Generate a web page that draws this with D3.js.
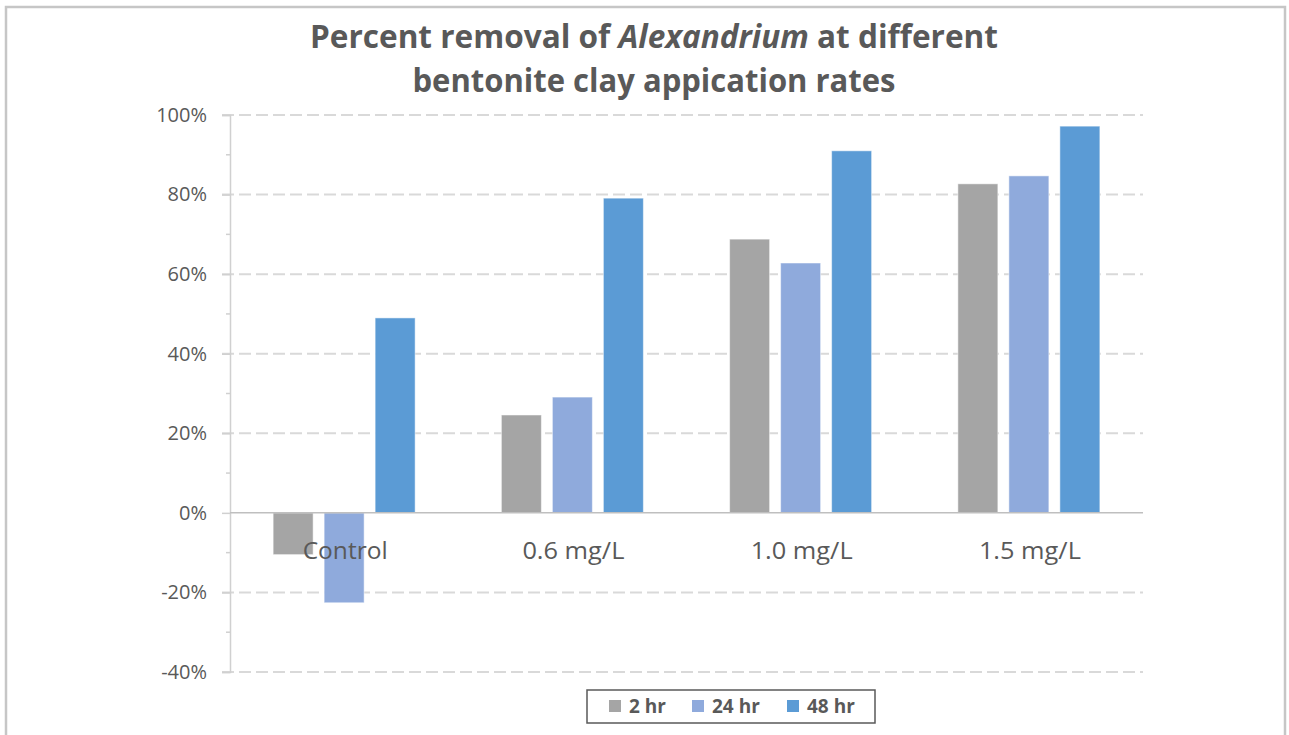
<!DOCTYPE html>
<html>
<head>
<meta charset="utf-8">
<script src="https://cdn.jsdelivr.net/npm/d3@7"></script>
<style>
  html, body { margin: 0; padding: 0; background: #fff; }
  svg { display: block; }
</style>
</head>
<body>
<svg id="chart" width="1289" height="735"></svg>
<script>
// ---- data ----
const categories = ["Control", "0.6 mg/L", "1.0 mg/L", "1.5 mg/L"];
const seriesNames = ["2 hr", "24 hr", "48 hr"];
const values2hr  = [-0.105, 0.246, 0.688, 0.827];
const values24hr = [-0.226, 0.291, 0.628, 0.847];
const values48hr = [0.490, 0.791, 0.910, 0.972];
const yTicks = [-0.4, -0.2, 0, 0.2, 0.4, 0.6, 0.8, 1.0];
const yMinorTicks = [-0.3, -0.1, 0.1, 0.3, 0.5, 0.7, 0.9];
const seriesColors = ["#A5A5A5", "#8FAADC", "#5B9BD5"];

const seriesValues = [values2hr, values24hr, values48hr];

const svg = d3.select("#chart");
const W = 1289, H = 735;

// outer frame
svg.append("rect").attr("x", 6).attr("y", 7).attr("width", W - 10).attr("height", H + 10)
  .attr("fill", "#fff").attr("stroke", "#c6c6c6").attr("stroke-width", 2.5);

// title
const title = svg.append("text").attr("text-anchor", "middle")
  .attr("font-family", "'Open Sans', sans-serif").attr("font-weight", 700)
  .attr("font-size", 33).attr("fill", "#595959");
title.append("tspan").attr("x", 654).attr("y", 48)
  .attr("textLength", 688).attr("lengthAdjust", "spacingAndGlyphs")
  .call(t => {
    t.append("tspan").text("Percent removal of ");
    t.append("tspan").attr("font-style", "italic").text("Alexandrium");
    t.append("tspan").text(" at different");
  });
title.append("tspan").attr("x", 654).attr("y", 92)
  .attr("textLength", 483).attr("lengthAdjust", "spacingAndGlyphs")
  .text("bentonite clay appication rates");

// scales
const plotLeft = 230, plotRight = 1143;
const y = d3.scaleLinear().domain([-0.4, 1.0]).range([672, 115]);
const x0 = d3.scaleBand().domain(categories).range([plotLeft, plotRight]).padding(0);
const groupInner = 142;
const x1 = d3.scaleBand().domain(seriesNames)
  .range([(x0.bandwidth() - groupInner) / 2, (x0.bandwidth() + groupInner) / 2])
  .paddingInner(11 / 51).paddingOuter(0);

// gridlines
svg.append("g").selectAll("line").data(yTicks.filter(d => d !== 0)).join("line")
  .attr("x1", plotLeft - 8).attr("x2", plotRight)
  .attr("y1", d => y(d)).attr("y2", d => y(d))
  .attr("stroke", "#d9d9d9").attr("stroke-width", 2)
  .attr("stroke-dasharray", "12,5");

// y axis
const pct = d3.format(".0%");
const yAxis = d3.axisLeft(y).tickValues(yTicks)
  .tickFormat(d => pct(d).replace("\u2212", "-")).tickSize(8).tickPadding(15);
const gy = svg.append("g").attr("transform", `translate(${plotLeft},0)`).call(yAxis);
gy.select(".domain").attr("stroke", "#d0d0d0").attr("stroke-width", 1.5);
gy.selectAll(".tick line").attr("stroke", "#d0d0d0").attr("stroke-width", 1.5);
gy.selectAll(".tick text").attr("font-family", "'Open Sans', sans-serif")
  .attr("font-size", 20).attr("fill", "#595959");
svg.append("g").selectAll("line").data(yMinorTicks).join("line")
  .attr("x1", plotLeft - 4).attr("x2", plotLeft)
  .attr("y1", d => y(d)).attr("y2", d => y(d))
  .attr("stroke", "#d0d0d0").attr("stroke-width", 1.5);

// bars
const groups = svg.append("g").selectAll("g").data(categories).join("g")
  .attr("transform", d => `translate(${x0(d)},0)`);
groups.selectAll("rect")
  .data((c, ci) => seriesNames.map((s, si) => ({ s, si, v: seriesValues[si][ci] })))
  .join("rect")
  .attr("x", d => x1(d.s))
  .attr("width", x1.bandwidth())
  .attr("y", d => y(Math.max(0, d.v)))
  .attr("height", d => Math.abs(y(d.v) - y(0)))
  .attr("fill", d => seriesColors[d.si])
  .attr("stroke", "#ffffff").attr("stroke-opacity", 0.5).attr("stroke-width", 1);

// zero line
svg.append("line").attr("x1", plotLeft).attr("x2", plotRight)
  .attr("y1", y(0)).attr("y2", y(0))
  .attr("stroke", "#bfbfbf").attr("stroke-width", 1.5);

// category labels
svg.append("g").selectAll("text").data(categories).join("text")
  .attr("x", d => x0(d) + x0.bandwidth() / 2 + 1)
  .attr("y", 559)
  .attr("text-anchor", "middle")
  .attr("font-family", "'Open Sans', sans-serif")
  .attr("font-size", 23).attr("fill", "#595959")
  .attr("textLength", d => d === "Control" ? 85 : 102)
  .attr("lengthAdjust", "spacingAndGlyphs")
  .text(d => d);

// legend
const leg = svg.append("g");
leg.append("rect").attr("x", 587).attr("y", 690).attr("width", 288).attr("height", 33)
  .attr("fill", "#fff").attr("stroke", "#595959").attr("stroke-width", 1.5);
const legX = [609, 692, 787];
const legItems = leg.selectAll("g").data(seriesNames).join("g")
  .attr("transform", (d, i) => `translate(${legX[i]},700)`);
legItems.append("rect").attr("width", 12).attr("height", 12)
  .attr("fill", (d, i) => seriesColors[i]);
legItems.append("text").attr("x", 20).attr("y", 13)
  .attr("font-family", "'Open Sans', sans-serif").attr("font-weight", 700)
  .attr("font-size", 19).attr("fill", "#595959")
  .text(d => d);
</script>
</body>
</html>
